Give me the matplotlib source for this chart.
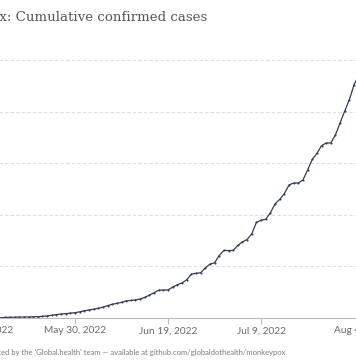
import matplotlib
matplotlib.use("Agg")
import matplotlib.pyplot as plt
import matplotlib.dates as mdates
import matplotlib.transforms as mtrans
import pandas as pd

# cumulative confirmed cases, one value per day from 2022-05-10
start_date = "2022-05-10"
cases = [
    2, 5, 9, 15, 30, 50, 70, 80, 85, 90,
    100, 115, 130, 160, 210, 260, 330, 390, 420, 470,
    515, 600, 700, 780, 850, 940, 1050, 1200, 1330, 1420,
    1520, 1660, 1700, 1760, 1840, 2000, 2220, 2450, 2700, 2710,
    2720, 3000, 3220, 3400, 3700, 4250, 4330, 4380, 4850, 5220,
    5350, 6050, 6550, 6530, 6550, 7040, 7380, 7600, 8160, 9270,
    9480, 9570, 10190, 11050, 11490, 12050, 12890, 13080, 13080, 13370,
    14340, 15360, 15940, 16700, 16960, 16960, 17750, 18920, 20070, 21170,
    22620, 23500, 24300, 25200, 25900, 26400, 26900,
]
tick_dates = ["2022-05-10", "2022-05-30", "2022-06-19", "2022-07-09", "2022-08-04"]
tick_labels = ["May 10, 2022", "May 30, 2022", "Jun 19, 2022", "Jul 9, 2022", "Aug 4, 2022"]
y_grid = [0, 5000, 10000, 15000, 20000, 25000]

title = "Monkeypox: Cumulative confirmed cases"
source = ("Source: Data produced by the 'Global.health' team \u2014 available at "
          "github.com/globaldothealth/monkeypox")

dates = pd.date_range(start_date, periods=len(cases), freq="D")

W, H = 356, 364
fig = plt.figure(figsize=(W / 100, H / 100), dpi=100)
# the chart is a crop of a wider one: the axes run past both figure edges
x0, x1 = -18, 382
y_base, y_top = 318, 34.2
ax = fig.add_axes([x0 / W, (H - y_base) / H, (x1 - x0) / W, (y_base - y_top) / H])

ax.plot(dates, cases, "-", color="#353d50", lw=0.9, marker="o", ms=1.5, mew=0)
ax.set_xlim(dates[0], dates[-1])
ax.set_ylim(0, 25000 * (y_base - y_top) / (y_base - 60))

for v in y_grid[1:]:
    ax.axhline(v, color="#dddddd", lw=0.8, ls=(0, (3, 2)), zorder=0)
for s in ("top", "right", "left"):
    ax.spines[s].set_visible(False)
ax.spines["bottom"].set_color("#bbbbbb")
ax.spines["bottom"].set_linewidth(0.8)
ax.set_yticks([])

ax.set_xticks([mdates.date2num(pd.Timestamp(d)) for d in tick_dates])
ax.set_xticklabels(tick_labels)
ax.tick_params(axis="x", length=4, width=0.8, color="#bbbbbb", pad=2,
               labelsize=7.3, labelcolor="#6a6a6a")
for lbl in ax.get_xticklabels():
    lbl.set_fontfamily("Lato")
# last date label is pulled in to stay inside the original chart
last = ax.get_xticklabels()[-1]
last.set_horizontalalignment("right")
last.set_transform(last.get_transform() + mtrans.ScaledTranslation(6 / 100, 0, fig.dpi_scale_trans))

fig.text(207 / W, 1 - 17 / H, title, ha="right", va="center", fontsize=9.65,
         family="DejaVu Serif", color="#555555")
fig.text(285 / W, 1 - 352 / H, source, ha="right", va="center", fontsize=5.5,
         family="Lato", color="#7a7a7a")

fig.savefig("out.png", dpi=100)
